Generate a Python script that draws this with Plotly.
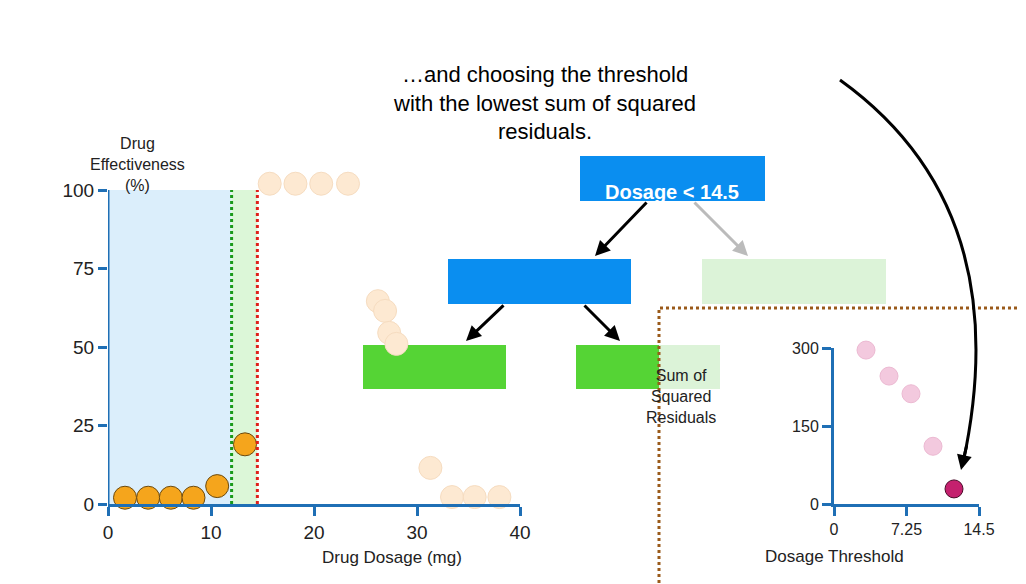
import plotly.graph_objects as go

W, H = 1026, 584

# main panel data
dosage = [1.65, 3.9, 6.1, 8.3, 10.6, 13.3]
effect = [2, 2, 2, 2, 5.7, 19]
faded_dosage = [15.7, 18.2, 20.7, 23.3, 26.2, 26.9, 27.3, 28, 31.3, 33.4, 35.6, 38]
faded_effect = [102, 102, 102, 102, 64.6, 61.5, 54.5, 51, 11.5, 2.2, 2.2, 2.2]
main_xticks = [0, 10, 20, 30, 40]
main_yticks = [0, 25, 50, 75, 100]

# inset data
thresholds = [3.2, 5.5, 7.7, 9.9]
ssr = [296, 246, 212, 111]
best_threshold = [12.0]
best_ssr = [29]
inset_xticks = [0, 7.25, 14.5]
inset_yticks = [0, 150, 300]

AXIS = "#1f6fb5"
FONT = "Liberation Sans, Arial, sans-serif"
Y_TOP = 106  # room above 100 for the top row of dots


def px(x):
    return x / W


def py(y):
    return 1 - y / H


fig = go.Figure()
fig.add_trace(go.Scatter(x=faded_dosage, y=faded_effect, mode="markers", cliponaxis=False,
                         marker=dict(size=23, color="#fde9d2", line=dict(color="#f6dcc0", width=1))))
fig.add_trace(go.Scatter(x=dosage, y=effect, mode="markers", cliponaxis=False,
                         marker=dict(size=23, color="#f5a51c", line=dict(color="#6b4a10", width=1))))
fig.add_trace(go.Scatter(x=thresholds, y=ssr, mode="markers", cliponaxis=False, xaxis="x2", yaxis="y2",
                         marker=dict(size=18, color="#f3c9de", line=dict(color="#ecb9d2", width=1))))
fig.add_trace(go.Scatter(x=best_threshold, y=best_ssr, mode="markers", cliponaxis=False, xaxis="x2", yaxis="y2",
                         marker=dict(size=18, color="#c4206e", line=dict(color="#4a0a28", width=1))))

shapes = [
    dict(type="rect", xref="x", yref="y", x0=0, x1=12, y0=0, y1=100, fillcolor="#dbeefb", line_width=0, layer="below"),
    dict(type="rect", xref="x", yref="y", x0=12, x1=14.5, y0=0, y1=100, fillcolor="#dcf7d8", line_width=0, layer="below"),
    dict(type="line", xref="x", yref="y", x0=12, x1=12, y0=0, y1=100, line=dict(color="#1a9a1a", width=3, dash="dot")),
    dict(type="line", xref="x", yref="y", x0=14.5, x1=14.5, y0=0, y1=100, line=dict(color="#e0201a", width=3, dash="dot")),
    dict(type="line", xref="x", yref="y", x0=0, x1=0, y0=0, y1=100, line=dict(color=AXIS, width=3)),
]


def box(x0, y0, x1, y1, color):
    return dict(type="rect", xref="paper", yref="paper", x0=px(x0), x1=px(x1), y0=py(y1), y1=py(y0),
                fillcolor=color, line_width=0, layer="below")


shapes += [
    box(572, 148, 757, 193, "#0a8ef0"),
    box(440, 251, 623, 296, "#0a8ef0"),
    box(694, 251, 878, 296, "#dcf3d8"),
    box(355, 337, 498, 381, "#55d435"),
    box(568, 337, 651, 381, "#55d435"),
    box(651, 337, 712, 381, "#dcf3d8"),
    dict(type="rect", xref="paper", yref="paper", x0=px(651), x1=px(1017), y0=py(580), y1=py(300),
         line=dict(color="#9a5a1a", width=3, dash="dot")),
    dict(type="path", xref="paper", yref="paper",
         path=f"M {px(832)} {py(72)} Q {px(1010)} {py(200)} {px(955)} {py(455)}",
         line=dict(color="black", width=3)),
]

annotations = [
    dict(x=px(664), y=py(171), text="<b>Dosage < 14.5</b>", font=dict(size=20, color="white")),
    dict(x=px(690), y=py(52), text="…and choosing the threshold<br>with the lowest sum of squared<br>residuals.",
         font=dict(size=22, color="black")),
    dict(x=px(80), y=py(125), text="Drug<br>Effectiveness<br>(%)", font=dict(size=16)),
    dict(x=px(312), y=py(561), text="Drug Dosage (mg)", font=dict(size=17)),
    dict(x=px(710), y=py(420), text="Sum of<br>Squared<br>Residuals", font=dict(size=16)),
    dict(x=px(898), y=py(560), text="Dosage Threshold", font=dict(size=17)),
]


def arrow(x0, y0, x1, y1, color):
    return dict(x=px(x1), y=py(y1), ax=x0 - x1, ay=y0 - y1, xref="paper", yref="paper", text="",
                showarrow=True, arrowhead=2, arrowsize=1, arrowwidth=3, arrowcolor=color)


annotations += [
    arrow(640, 193, 587, 248, "black"),
    arrow(685, 193, 740, 248, "#bbbbbb"),
    arrow(497, 296, 458, 333, "black"),
    arrow(575, 296, 612, 333, "black"),
    dict(x=px(953), y=py(462), ax=6, ay=-26, xref="paper", yref="paper", text="",
         showarrow=True, arrowhead=2, arrowsize=1, arrowwidth=3, arrowcolor="black"),
]
for a in annotations:
    a.setdefault("xref", "paper")
    a.setdefault("yref", "paper")
    a.setdefault("showarrow", False)

axis_common = dict(showgrid=False, zeroline=False, showline=True, linecolor=AXIS, linewidth=3,
                   ticks="outside", tickcolor=AXIS, tickwidth=3, ticklen=9)
main_y = dict(axis_common, showline=False)

fig.update_layout(
    width=W, height=H, margin=dict(l=0, r=0, t=0, b=0, autoexpand=False),
    paper_bgcolor="white", plot_bgcolor="rgba(0,0,0,0)", showlegend=False,
    font=dict(family=FONT, color="#222222"),
    xaxis=dict(domain=[px(100), px(512)], range=[0, 40], tickvals=main_xticks,
               tickfont=dict(size=19), anchor="y", **axis_common),
    yaxis=dict(domain=[py(496), py(496 - Y_TOP * 3.14)], range=[0, Y_TOP], tickvals=main_yticks,
               tickfont=dict(size=19), anchor="x", **main_y),
    xaxis2=dict(domain=[px(826), px(971)], range=[0, 14.5], tickvals=inset_xticks,
                tickfont=dict(size=16), anchor="y2", **axis_common),
    yaxis2=dict(domain=[py(496), py(340)], range=[0, 300], tickvals=inset_yticks,
                tickfont=dict(size=16), anchor="x2", **axis_common),
    shapes=shapes, annotations=annotations,
)

fig.write_html("out.html")
